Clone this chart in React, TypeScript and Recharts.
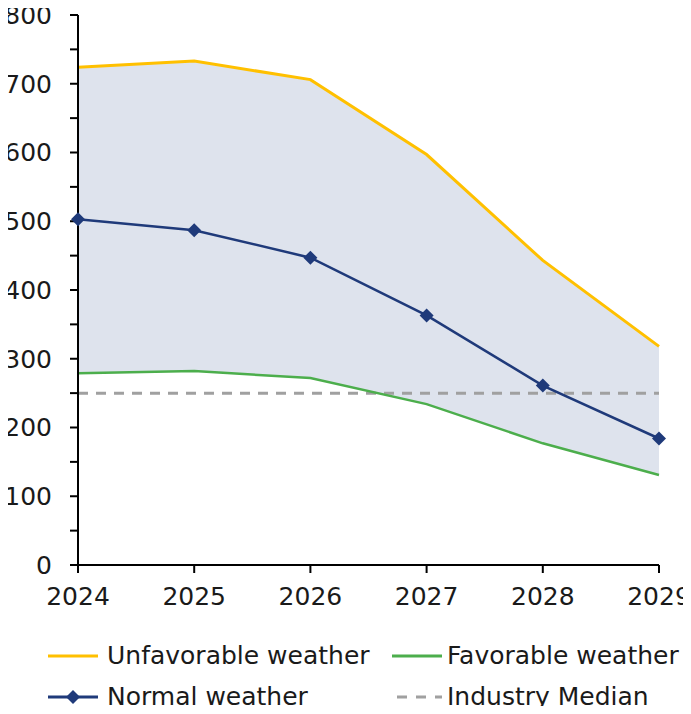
import { Area, ComposedChart, Legend, Line, ReferenceLine, XAxis, YAxis } from "recharts"

const years = ["2024", "2025", "2026", "2027", "2028", "2029"]
const unfavorable = [724, 733, 706, 597, 443, 318]
const normal = [503, 487, 447, 363, 261, 184]
const favorable = [279, 282, 272, 234, 177, 131]
const industryMedian = 250
const yTicks = [0, 50, 100, 150, 200, 250, 300, 350, 400, 450, 500, 550, 600, 650, 700, 750, 800]

const data = years.map((year, i) => ({
  year,
  unfavorable: unfavorable[i],
  normal: normal[i],
  favorable: favorable[i],
  band: [favorable[i], unfavorable[i]],
}))

const FONT = "'DejaVu Sans', Verdana, sans-serif"
const GOLD = "#FFC000"
const GREEN = "#4CAE4C"
const NAVY = "#1F3A7A"
const GREY = "#A0A0A0"

function Diamond(props: any) {
  const { cx, cy, index } = props
  if (cx == null || cy == null) return null
  const r = 7
  return (
    <path
      key={`d-${index}`}
      d={`M${cx},${cy - r} L${cx + r},${cy} L${cx},${cy + r} L${cx - r},${cy} Z`}
      fill={NAVY}
    />
  )
}

// one legend entry: line sample at sx, label text at tx
function LegendItem({ sx, tx, y, label, sample }: { sx: number; tx: number; y: number; label: string; sample: React.ReactNode }) {
  return (
    <>
      <svg width={52} height={30} style={{ position: "absolute", left: sx, top: y }}>
        {sample}
      </svg>
      <span
        style={{
          position: "absolute",
          left: tx,
          top: y,
          fontSize: 25,
          lineHeight: "30px",
          color: "#1a1a1a",
          whiteSpace: "nowrap",
        }}
      >
        {label}
      </span>
    </>
  )
}

function ChartLegend() {
  return (
    <div style={{ position: "relative", width: 691, height: 109, fontFamily: FONT }}>
      <LegendItem
        sx={47}
        tx={107}
        y={36}
        label="Unfavorable weather"
        sample={<line x1={1} x2={51} y1={15} y2={15} stroke={GOLD} strokeWidth={3} />}
      />
      <LegendItem
        sx={391}
        tx={447}
        y={36}
        label="Favorable weather"
        sample={<line x1={1} x2={51} y1={15} y2={15} stroke={GREEN} strokeWidth={3} />}
      />
      <LegendItem
        sx={47}
        tx={107}
        y={77}
        label="Normal weather"
        sample={
          <g>
            <line x1={1} x2={51} y1={15} y2={15} stroke={NAVY} strokeWidth={3} />
            <path d="M26,8 L33,15 L26,22 L19,15 Z" fill={NAVY} />
          </g>
        }
      />
      <LegendItem
        sx={391}
        tx={447}
        y={77}
        label="Industry Median"
        sample={<line x1={6} x2={51} y1={15} y2={15} stroke={GREY} strokeWidth={3} strokeDasharray="10 9" />}
      />
    </div>
  )
}

export default function App() {
  return (
    <div style={{ margin: -8, width: 691, height: 714, overflow: "hidden" }}>
      <ComposedChart
        width={691}
        height={714}
        data={data}
        margin={{ top: 15, right: 32, left: 0, bottom: 0 }}
        style={{ fontFamily: FONT }}
      >
        <XAxis
          dataKey="year"
          height={40}
          tickSize={8}
          tickMargin={14}
          interval={0}
          axisLine={{ stroke: "#000", strokeWidth: 2 }}
          tickLine={{ stroke: "#000", strokeWidth: 2 }}
          tick={{ fontSize: 25, fill: "#1a1a1a" }}
        />
        <YAxis
          width={78}
          domain={[0, 800]}
          ticks={yTicks}
          interval={0}
          tickSize={8}
          tickMargin={18}
          tickFormatter={(v: number) => (v % 100 === 0 ? `${v}` : "")}
          axisLine={{ stroke: "#000", strokeWidth: 2 }}
          tickLine={{ stroke: "#000", strokeWidth: 2 }}
          tick={{ fontSize: 25, fill: "#1a1a1a" }}
        />
        <Area
          dataKey="band"
          type="linear"
          fill="#DEE3ED"
          fillOpacity={1}
          stroke="none"
          isAnimationActive={false}
          legendType="none"
        />
        <ReferenceLine y={industryMedian} stroke={GREY} strokeWidth={3} strokeDasharray="10 8" />
        <Line
          dataKey="unfavorable"
          type="linear"
          stroke={GOLD}
          strokeWidth={3}
          dot={false}
          isAnimationActive={false}
        />
        <Line
          dataKey="favorable"
          type="linear"
          stroke={GREEN}
          strokeWidth={2.5}
          dot={false}
          isAnimationActive={false}
        />
        <Line
          dataKey="normal"
          type="linear"
          stroke={NAVY}
          strokeWidth={2.5}
          dot={<Diamond />}
          isAnimationActive={false}
        />
        <Legend
          verticalAlign="bottom"
          height={109}
          width={691}
          wrapperStyle={{ left: 0 }}
          content={() => <ChartLegend />}
        />
      </ComposedChart>
    </div>
  )
}
